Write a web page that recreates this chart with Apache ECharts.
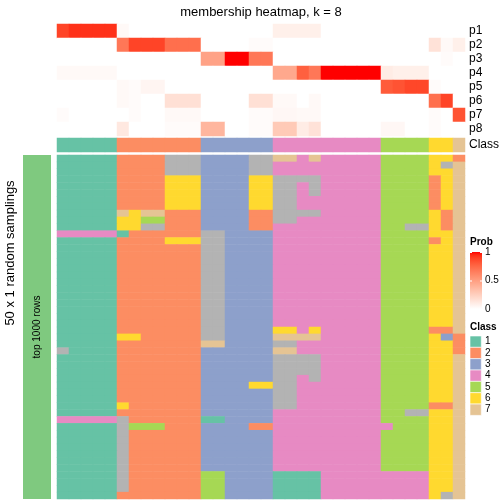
<!DOCTYPE html>
<html><head><meta charset="utf-8">
<script src="https://cdn.jsdelivr.net/npm/echarts@6/dist/echarts.min.js"></script>
<style>html,body{margin:0;padding:0;background:#fff}#c{width:504px;height:504px}</style>
</head><body><div id="c"></div>
<script>
// ---------- data ----------
const probRows = ['p1','p2','p3','p4','p5','p6','p7','p8'];
const classIds = [1,2,3,4,5,6,7,8];
const classColors = ['#66C2A5','#FC8D62','#8DA0CB','#E78AC3','#A6D854','#FFD92F','#E5C494','#B3B3B3'];
const legendClasses = ['1','2','3','4','5','6','7'];
const probTicks = ['1','0.5','0'];
// class of each of the 34 columns
const columnClass = [1,1,1,1,1, 2,2,2,2,2,2,2, 3,3,3,3,3,3, 4,4,4,4,4,4,4,4,4, 5,5,5,5, 6,6, 7];
// membership probabilities (columns 0..33)
const p1 = [0.88,0.93,0.93,0.93,0.93, 0.03, 0, 0,0, 0,0,0, 0,0, 0,0, 0,0, 0.08,0.08, 0.08, 0.08, 0,0,0,0,0, 0, 0, 0,0, 0, 0, 0];
const p2 = [0,0,0,0,0, 0.68, 0.88, 0.88,0.88, 0.72,0.72,0.72, 0,0, 0,0, 0.02,0.02, 0,0, 0, 0, 0,0,0,0,0, 0, 0, 0,0, 0.15, 0.03, 0.08];
const p3 = [0,0,0,0,0, 0, 0, 0,0, 0,0,0, 0.48,0.48, 1,1, 0.68,0.68, 0,0, 0, 0, 0,0,0,0,0, 0, 0, 0,0, 0, 0.02, 0];
const p4 = [0.03,0.03,0.03,0.03,0.03, 0, 0, 0,0, 0,0,0, 0,0, 0,0, 0,0, 0.45,0.45, 0.78, 0.68, 1,1,1,1,1, 0.1, 0.08, 0.08,0.08, 0, 0, 0];
const p5 = [0,0,0,0,0, 0.03, 0.02, 0.05,0.05, 0,0,0, 0,0, 0,0, 0,0, 0,0, 0, 0, 0,0,0,0,0, 0.8, 0.83, 0.87,0.87, 0.02, 0, 0];
const p6 = [0,0,0,0,0, 0.03, 0.02, 0,0, 0.16,0.16,0.16, 0,0, 0,0, 0.16,0.16, 0.03,0.03, 0, 0.03, 0,0,0,0,0, 0, 0, 0,0, 0.72, 0.88, 0];
const p7 = [0.02,0,0,0,0, 0, 0.02, 0,0, 0.03,0.03,0.03, 0,0, 0,0, 0.02,0.02, 0.04,0.04, 0.03, 0.03, 0,0,0,0,0, 0, 0, 0,0, 0.02, 0, 0.83];
const p8 = [0,0,0,0,0, 0.12, 0, 0,0, 0.02,0.02,0.02, 0.38,0.38, 0,0, 0.02,0.02, 0.28,0.28, 0.1, 0.15, 0,0,0,0,0, 0.04, 0.04, 0,0, 0.02, 0, 0];
const probMatrix = [p1,p2,p3,p4,p5,p6,p7,p8];
// 50 samplings x 34 columns, predicted class (8 = not assigned)
const samplingRows = [
"11111 2 2 22 888 33 33 88 77 4 7 44444 5 5 55 6 6 2",
"11111 2 2 22 888 33 33 88 44 4 4 44444 5 5 55 6 8 7",
"11111 2 2 22 888 33 33 88 44 4 4 44444 5 5 55 6 6 7",
"11111 2 2 22 666 33 33 66 88 8 8 44444 5 5 55 2 6 7",
"11111 2 2 22 666 33 33 66 88 4 8 44444 5 5 55 2 6 7",
"11111 2 2 22 666 33 33 66 88 4 8 44444 5 5 55 2 6 7",
"11111 2 2 22 666 33 33 66 88 4 4 44444 5 5 55 2 6 7",
"11111 2 2 22 666 33 33 66 88 4 4 44444 5 5 55 2 6 7",
"11111 7 6 77 222 33 33 22 88 8 8 44444 5 5 55 6 2 7",
"11111 6 6 55 222 33 33 22 88 4 4 44444 5 5 55 6 2 7",
"11111 6 6 88 222 33 33 22 44 4 4 44444 5 5 88 6 2 7",
"44444 1 2 22 222 88 33 33 44 4 4 44444 5 5 55 6 6 7",
"11111 2 2 22 666 88 33 33 44 4 4 44444 5 5 55 2 6 7",
"11111 2 2 22 222 88 33 33 44 4 4 44444 5 5 55 6 6 7",
"11111 2 2 22 222 88 33 33 44 4 4 44444 5 5 55 6 6 7",
"11111 2 2 22 222 88 33 33 44 4 4 44444 5 5 55 6 6 7",
"11111 2 2 22 222 88 33 33 44 4 4 44444 5 5 55 6 6 7",
"11111 2 2 22 222 88 33 33 44 4 4 44444 5 5 55 6 6 7",
"11111 2 2 22 222 88 33 33 44 4 4 44444 5 5 55 6 6 7",
"11111 2 2 22 222 88 33 33 44 4 4 44444 5 5 55 6 6 7",
"11111 2 2 22 222 88 33 33 44 4 4 44444 5 5 55 6 6 7",
"11111 2 2 22 222 88 33 33 44 4 4 44444 5 5 55 6 6 7",
"11111 2 2 22 222 88 33 33 44 4 4 44444 5 5 55 6 6 7",
"11111 2 2 22 222 88 33 33 44 4 4 44444 5 5 55 6 6 7",
"11111 2 2 22 222 88 33 33 44 4 4 44444 5 5 55 6 6 7",
"11111 2 2 22 222 88 33 33 66 4 6 44444 5 5 55 2 2 7",
"11111 6 6 22 222 88 33 33 77 7 7 44444 5 5 55 6 3 2",
"11111 2 2 22 222 77 33 33 88 4 4 44444 5 5 55 6 6 2",
"81111 2 2 22 222 33 33 33 77 4 4 44444 5 5 55 6 6 2",
"11111 2 2 22 222 33 33 33 88 8 8 44444 5 5 55 6 6 7",
"11111 2 2 22 222 33 33 33 88 8 8 44444 5 5 55 6 6 7",
"11111 2 2 22 222 33 33 33 88 8 8 44444 5 5 55 6 6 7",
"11111 2 2 22 222 33 33 33 88 4 8 44444 5 5 55 6 6 7",
"11111 2 2 22 222 33 33 66 88 4 4 44444 5 5 55 6 6 7",
"11111 2 2 22 222 33 33 33 88 4 4 44444 5 5 55 6 6 7",
"11111 2 2 22 222 33 33 33 88 4 4 44444 5 5 55 6 6 7",
"11111 6 2 22 222 33 33 33 88 4 4 44444 5 5 55 2 2 7",
"11111 2 2 22 222 33 33 33 44 4 4 44444 5 5 88 6 6 7",
"44444 8 2 22 222 11 33 33 44 4 4 44444 5 5 55 6 6 7",
"11111 8 5 55 222 33 33 22 44 4 4 44444 4 5 55 6 6 7",
"11111 8 2 22 222 33 33 33 44 4 4 44444 5 5 55 6 6 7",
"11111 8 2 22 222 33 33 33 44 4 4 44444 5 5 55 6 6 7",
"11111 8 2 22 222 33 33 33 44 4 4 44444 5 5 55 6 6 7",
"11111 8 2 22 222 33 33 33 44 4 4 44444 5 5 55 6 6 7",
"11111 8 2 22 222 33 33 33 44 4 4 44444 5 5 55 6 6 7",
"11111 8 2 22 222 33 33 33 44 4 4 44444 5 5 55 6 6 7",
"11111 8 2 22 222 55 33 33 11 1 1 44444 4 4 44 6 6 7",
"11111 8 2 22 222 55 33 33 11 1 1 44444 4 4 44 6 6 7",
"11111 8 2 22 222 55 33 33 11 1 1 44444 4 4 44 6 6 7",
"11111 2 2 22 222 55 33 33 11 1 1 44444 4 4 44 6 8 7"
];

// ---------- colour ramp white -> red in LAB ----------
function toLin(c){c/=255;return c<=0.04045?c/12.92:Math.pow((c+0.055)/1.055,2.4);}
function toS(c){c=c<=0.0031308?12.92*c:1.055*Math.pow(c,1/2.4)-0.055;return Math.round(Math.max(0,Math.min(1,c))*255);}
function f(t){return t>0.008856?Math.cbrt(t):7.787*t+16/116;}
function fi(t){const t3=t*t*t;return t3>0.008856?t3:(t-16/116)/7.787;}
function rgb2lab(r,g,b){r=toLin(r);g=toLin(g);b=toLin(b);
  const X=(0.4124*r+0.3576*g+0.1805*b)/0.95047,Y=0.2126*r+0.7152*g+0.0722*b,Z=(0.0193*r+0.1192*g+0.9505*b)/1.08883;
  return [116*f(Y)-16,500*(f(X)-f(Y)),200*(f(Y)-f(Z))];}
function lab2hex(L,a,b){const fy=(L+16)/116,fx=fy+a/500,fz=fy-b/200;
  const X=fi(fx)*0.95047,Y=fi(fy),Z=fi(fz)*1.08883;
  const r=3.2406*X-1.5372*Y-0.4986*Z,g=-0.9689*X+1.8758*Y+0.0415*Z,bb=0.0557*X-0.2040*Y+1.0570*Z;
  return 'rgb('+toS(r)+','+toS(g)+','+toS(bb)+')';}
const w=rgb2lab(255,255,255), rd=rgb2lab(255,0,0);
const ramp=[];
for(let i=0;i<=20;i++){const t=i/20;ramp.push(lab2hex(w[0]+(rd[0]-w[0])*t,w[1]+(rd[1]-w[1])*t,w[2]+(rd[2]-w[2])*t));}

// ---------- build series data ----------
const cols = columnClass.map((_, i) => String(i));
const probData = [];
probMatrix.forEach((row, r) => row.forEach((v, c) => probData.push([c, r, v])));
const classData = columnClass.map((k, c) => [c, 0, k]);
const sampMatrix = samplingRows.map(s => s.replace(/ /g, '').split('').map(Number));
const sampData = [];
sampMatrix.forEach((row, r) => row.forEach((v, c) => sampData.push([c, r, v])));
const sampRowNames = sampMatrix.map((_, i) => String(i));

const FF = 'Liberation Sans, Arial, Helvetica, sans-serif';
const hiddenX = idx => ({type:'category', gridIndex:idx, data:cols, show:false});
const labelAxis = {show:true, position:'right', axisLine:{show:false}, axisTick:{show:false},
  axisLabel:{interval:0, fontSize:12, color:'#000', margin:4, fontFamily:FF}};

// ---------- legend graphics ----------
const gfx = [];
gfx.push({type:'text', x:261, y:12, style:{text:'membership heatmap, k = 8', font:'13px '+FF, fill:'#000', textAlign:'center', textVerticalAlign:'middle'}});
gfx.push({type:'text', x:10, y:253, rotation:Math.PI/2, style:{text:'50 x 1 random samplings', font:'13px '+FF, fill:'#000', textAlign:'center', textVerticalAlign:'middle'}});
gfx.push({type:'rect', shape:{x:23, y:155, width:28, height:344}, style:{fill:'#7FC97F'}});
gfx.push({type:'text', x:37.5, y:327, rotation:Math.PI/2, style:{text:'top 1000 rows', font:'10px '+FF, fill:'#000', textAlign:'center', textVerticalAlign:'middle'}});
// Prob legend
gfx.push({type:'text', x:470, y:242, style:{text:'Prob', font:'bold 10px '+FF, fill:'#000', textVerticalAlign:'middle'}});
const barTop=252, barH=57;
gfx.push({type:'rect', shape:{x:470, y:barTop, width:12, height:barH},
  style:{fill:{type:'linear', x:0, y:1, x2:0, y2:0, colorStops: ramp.map((c,i)=>({offset:i/20, color:c}))}}});
probTicks.forEach((t, i) => {
  const y = barTop + barH * i / 2;
  gfx.push({type:'text', x:485, y:y, style:{text:t, font:'10px '+FF, fill:'#000', textVerticalAlign:'middle'}});
  if (i < 2) {
    gfx.push({type:'line', shape:{x1:470, y1:y+0.5, x2:472, y2:y+0.5}, style:{stroke:'#fff', lineWidth:1}});
    gfx.push({type:'line', shape:{x1:480, y1:y+0.5, x2:482, y2:y+0.5}, style:{stroke:'#fff', lineWidth:1}});
  }
});
// Class legend
gfx.push({type:'text', x:470, y:327, style:{text:'Class', font:'bold 10px '+FF, fill:'#000', textVerticalAlign:'middle'}});
legendClasses.forEach((t, i) => {
  const y = 336 + i * 11.34;
  gfx.push({type:'rect', shape:{x:470, y:y, width:11.3, height:11.34}, style:{fill:classColors[i], stroke:'#fff', lineWidth:0.6}});
  gfx.push({type:'text', x:485, y:y+5.7, style:{text:t, font:'10px '+FF, fill:'#000', textVerticalAlign:'middle'}});
});

const option = {
  animation:false,
  backgroundColor:'#fff',
  grid:[
    {left:57, top:24, width:408, height:112},
    {left:57, top:138, width:408, height:14},
    {left:57, top:155, width:408, height:344}
  ],
  xAxis:[hiddenX(0), hiddenX(1), hiddenX(2)],
  yAxis:[
    Object.assign({type:'category', gridIndex:0, data:probRows, inverse:true}, labelAxis),
    Object.assign({type:'category', gridIndex:1, data:['Class'], inverse:true}, labelAxis),
    {type:'category', gridIndex:2, data:sampRowNames, inverse:true, show:false}
  ],
  visualMap:[
    {type:'continuous', min:0, max:1, dimension:2, seriesIndex:0, show:false, inRange:{color:ramp}},
    {type:'piecewise', dimension:2, seriesIndex:[1,2], show:false,
     pieces: classIds.map((k,i)=>({value:k, color:classColors[i]}))}
  ],
  series:[
    {type:'heatmap', xAxisIndex:0, yAxisIndex:0, data:probData, emphasis:{disabled:true}, itemStyle:{borderWidth:0}},
    {type:'heatmap', xAxisIndex:1, yAxisIndex:1, data:classData, emphasis:{disabled:true}, itemStyle:{borderWidth:0}},
    {type:'heatmap', xAxisIndex:2, yAxisIndex:2, data:sampData, emphasis:{disabled:true}, itemStyle:{borderWidth:0}}
  ],
  graphic: gfx
};
const chart = echarts.init(document.getElementById('c'), null, {renderer:'canvas'});
chart.setOption(option);
</script>
</body></html>
